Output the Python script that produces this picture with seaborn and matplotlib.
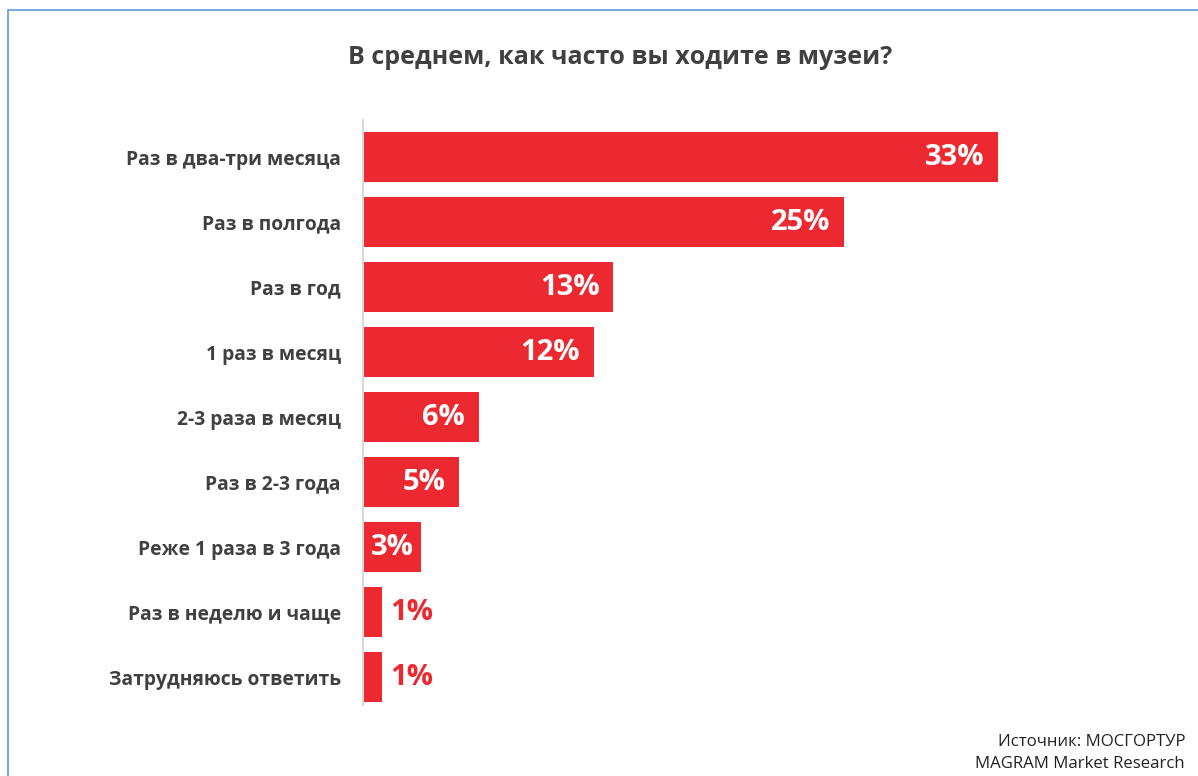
import matplotlib
matplotlib.use("Agg")
import matplotlib.pyplot as plt
import seaborn as sns
import pandas as pd
from matplotlib.patches import Rectangle

categories = [
    "Раз в два-три месяца",
    "Раз в полгода",
    "Раз в год",
    "1 раз в месяц",
    "2-3 раза в месяц",
    "Раз в 2-3 года",
    "Реже 1 раза в 3 года",
    "Раз в неделю и чаще",
    "Затрудняюсь ответить",
]
shares = [33, 25, 13, 12, 6, 5, 3, 1, 1]
title = "В среднем, как часто вы ходите в музеи?"
source_lines = ["Источник: МОСГОРТУР", "MAGRAM Market Research"]

RED = "#EC2930"
DARK = "#404040"

sns.set_theme(style="white")
plt.rcParams["font.family"] = ["Open Sans", "DejaVu Sans"]

W, H = 1198, 776
fig = plt.figure(figsize=(W / 100, H / 100), dpi=100)
fig.patch.set_facecolor("white")

# plot area in pixel terms
left, right, top, bottom = 363, 1190, 120, 705
ax = fig.add_axes([left / W, 1 - bottom / H, (right - left) / W, (bottom - top) / H])

df = pd.DataFrame({"cat": categories, "share": shares})
sns.barplot(data=df, x="share", y="cat", orient="h", color=RED, saturation=1,
            width=0.77, ax=ax, edgecolor="none")

ax.set_xlim(0, (right - left) / 19.25)
ax.set_ylim(8.43, -0.57)
ax.set_xlabel("")
ax.set_ylabel("")
ax.set_xticks([])
ax.tick_params(axis="y", length=0, pad=16)
for lab in ax.get_yticklabels():
    lab.set_fontsize(13.9)
    lab.set_fontweight("bold")
    lab.set_color(DARK)

for side in ["top", "right", "bottom"]:
    ax.spines[side].set_visible(False)
ax.spines["left"].set_color("#d9d9d9")
ax.spines["left"].set_linewidth(1.5)

# value labels: inside the bar when it is wide enough, otherwise just past its end
for i, v in enumerate(shares):
    text = f"{v}%"
    if v >= 5:
        ax.annotate(text, (v, i), xytext=(-10, 0), textcoords="offset points",
                    ha="right", va="center", color="white", fontsize=21,
                    fontweight="bold")
    elif v >= 3:
        ax.annotate(text, (v / 2, i), ha="center", va="center", color="white",
                    fontsize=21, fontweight="bold")
    else:
        ax.annotate(text, (v, i), xytext=(6, 0), textcoords="offset points",
                    ha="left", va="center", color=RED, fontsize=21,
                    fontweight="bold")

fig.text(620 / W, 1 - 57 / H, title, ha="center", va="center",
         fontsize=18, fontweight="bold", color=DARK)

for k, (line, y) in enumerate(zip(source_lines, [742, 764])):
    fig.text(1185 / W, 1 - y / H, line, ha="right", va="center",
             fontsize=12.1, color="#222222")

# thin frame line along the top and left edges
fig.patches.append(Rectangle((8 / W, -0.1), 1.1, 1.1 - 10 / H,
                             transform=fig.transFigure, fill=False,
                             edgecolor="#5B9BD5", linewidth=1.2))

fig.savefig("out.png", dpi=100, facecolor="white")
